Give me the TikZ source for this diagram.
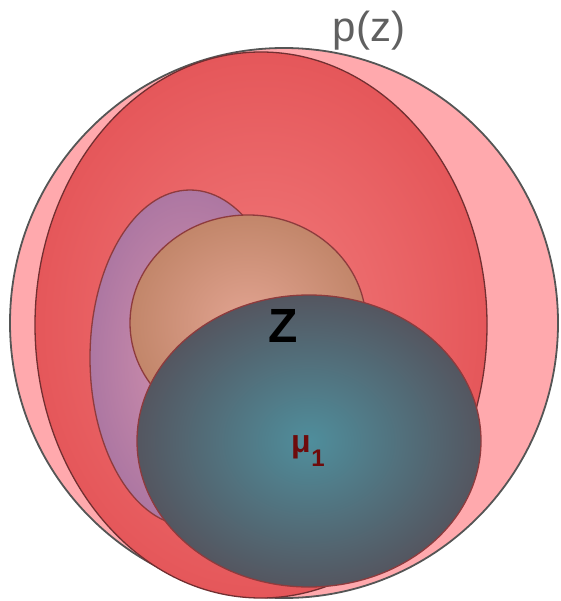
\documentclass[tikz,border=0pt]{standalone}
\usepackage{fontspec}
\setmainfont{Liberation Sans}
\definecolor{outerpink}{HTML}{FFA9AD}
\definecolor{redin}{HTML}{F17A7B}
\definecolor{redout}{HTML}{E5575A}
\definecolor{purpin}{HTML}{D593AE}
\definecolor{purpout}{HTML}{AD77A2}
\definecolor{tanin}{HTML}{E2A492}
\definecolor{tanout}{HTML}{C2866A}
\definecolor{tealin}{HTML}{4F8E9C}
\definecolor{tealout}{HTML}{545660}
\definecolor{edgegray}{HTML}{555555}
\definecolor{edgered}{HTML}{8E3B3D}
\definecolor{labgray}{HTML}{606060}
\definecolor{mured}{HTML}{6E0B0B}
\tikzset{
  blob/.style={draw=edgered, line width=1.3pt, shading=radial},
  lab/.style={inner sep=0pt, anchor=center}
}
\begin{document}
\begin{tikzpicture}[x=1pt,y=-1pt]
\useasboundingbox (0,0) rectangle (560,601);
% outer circle p(z)
\fill[outerpink] (284,323) ellipse [x radius=274pt, y radius=275pt];
\draw[edgegray, line width=1.8pt] (284,323) ellipse [x radius=274pt, y radius=275pt];
% red ellipse
\shade[blob, inner color=redin, outer color=redout, draw=edgered!80!black] (261,325) ellipse [x radius=226pt, y radius=273pt];
% purple ellipse
\shade[blob, inner color=purpin, outer color=purpout] (190,358) ellipse [x radius=100pt, y radius=168pt];
% tan ellipse
\shade[blob, inner color=tanin, outer color=tanout] (248,323) ellipse [x radius=118pt, y radius=108pt];
% teal ellipse
\shade[blob, inner color=tealin, outer color=tealout] (309,441) ellipse [x radius=172pt, y radius=146pt];
% labels
\node[lab, text=labgray, font=\fontsize{42}{44}\selectfont] (pz) at (369,31) {p(z)};
\node[lab, font=\fontsize{48}{50}\selectfont\bfseries] (z) at (283,326) {Z};
\node[lab, text=mured, font=\fontsize{32}{34}\selectfont\bfseries] (mu) at (301,447) {μ};
\node[lab, text=mured, font=\fontsize{24}{26}\selectfont\bfseries] (one) at (318,458) {1};
\end{tikzpicture}
\end{document}
